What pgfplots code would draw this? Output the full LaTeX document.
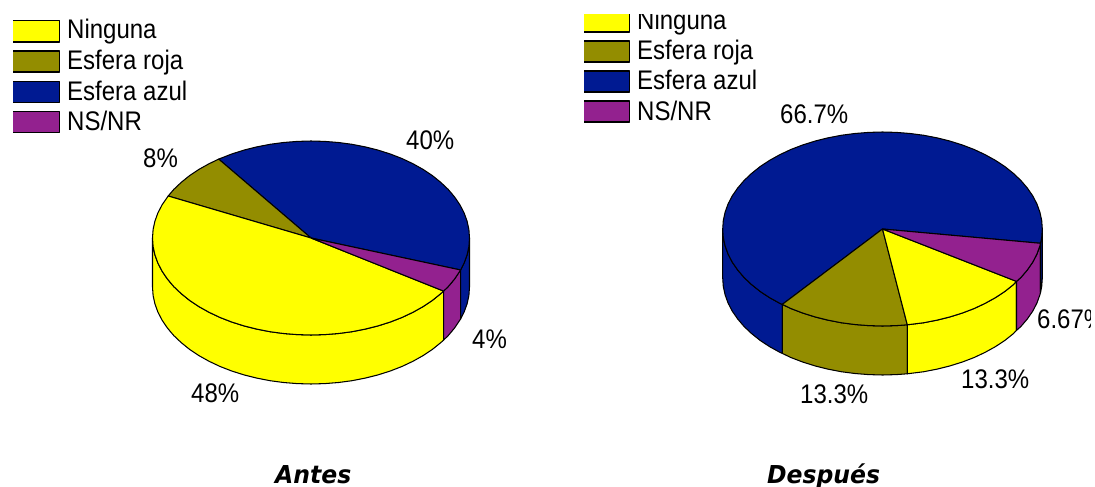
\documentclass[border=0pt]{standalone}
\usepackage{pgfplots}
\usepackage{fontspec}
\pgfplotsset{compat=1.18}
\setmainfont{Liberation Sans}
\newfontfamily\titlefont{DejaVu Sans}
\definecolor{cy}{RGB}{255,255,0}
\definecolor{co}{RGB}{147,141,0}
\definecolor{cb}{RGB}{0,26,146}
\definecolor{cp}{RGB}{147,33,143}
\newcommand{\lab}[3]{\node[anchor=base west,inner sep=0pt,text=black,yscale=1.12,transform shape,font=\fontsize{24}{24}\selectfont] at (axis cs:#1,#2) {#3};}
\newcommand{\ttl}[3]{\node[anchor=base west,inner sep=0pt,yscale=1.05,transform shape,font=\fontsize{23.5}{24}\selectfont\titlefont\bfseries\itshape] at (axis cs:#1,#2) {#3};}
\begin{document}
\begin{tikzpicture}
\useasboundingbox (0,0) rectangle (1095pt,487pt);
\begin{axis}[
  at={(0,0)}, anchor=south west,
  scale only axis, width=1095pt, height=487pt,
  xmin=0, xmax=1095, ymin=0, ymax=487, y dir=reverse,
  hide axis, clip=false,
  every axis plot/.append style={no markers, line width=1.05pt, line join=round, draw=black},
]
% canvas
\addplot[fill=white, draw=none] coordinates {(0,0) (1095,0) (1095,487) (0,487) (0,0)};

% ---------- Antes: sides
\addplot[fill=cy] coordinates {(152.5,238) (153.1,246.5) (154.9,254.8) (157.9,263.1) (162.1,271.2) (167.4,279) (173.7,286.5) (181.2,293.6) (189.6,300.4) (198.9,306.6) (209.1,312.3) (220.1,317.5) (231.7,322) (244,325.9) (256.8,329.1) (270,331.7) (283.5,333.5) (297.2,334.6) (311,335) (324.8,334.6) (338.5,333.5) (352,331.7) (365.2,329.1) (378,325.9) (390.3,322) (401.9,317.5) (412.9,312.3) (423.1,306.6) (432.4,300.4) (440.8,293.6) (443.6,291.1) (443.6,340.1) (440.8,342.6) (432.4,349.4) (423.1,355.6) (412.9,361.3) (401.9,366.5) (390.3,371) (378,374.9) (365.2,378.1) (352,380.7) (338.5,382.5) (324.8,383.6) (311,384) (297.2,383.6) (283.5,382.5) (270,380.7) (256.8,378.1) (244,374.9) (231.7,371) (220.1,366.5) (209.1,361.3) (198.9,355.6) (189.6,349.4) (181.2,342.6) (173.7,335.5) (167.4,328) (162.1,320.2) (157.9,312.1) (154.9,303.8) (153.1,295.5) (152.5,287) (152.5,238)};
\addplot[fill=cp] coordinates {(443.6,291.1) (448.3,286.5) (454.6,279) (460.6,270) (460.6,319) (454.6,328) (448.3,335.5) (443.6,340.1) (443.6,291.1)};
\addplot[fill=cb] coordinates {(460.6,270) (464.1,263.1) (467.1,254.8) (468.9,246.5) (469.5,238) (469.5,287) (468.9,295.5) (467.1,303.8) (464.1,312.1) (460.6,319) (460.6,270)};
% ---------- Antes: top
\addplot[fill=cb] coordinates {(311,238) (460.6,270) (464.1,263.1) (467.1,254.8) (468.9,246.5) (469.5,238) (468.9,229.5) (467.1,221.2) (464.1,212.9) (459.9,204.8) (454.6,197) (448.3,189.5) (440.8,182.4) (432.4,175.6) (423.1,169.4) (412.9,163.7) (401.9,158.5) (390.3,154) (378,150.1) (365.2,146.9) (352,144.3) (338.5,142.5) (324.8,141.4) (311,141) (297.2,141.4) (283.5,142.5) (270,144.3) (256.8,146.9) (244,150.1) (231.7,154) (218.7,159.1) (311,238)};
\addplot[fill=co] coordinates {(311,238) (218.7,159.1) (209.1,163.7) (198.9,169.4) (189.6,175.6) (181.2,182.4) (173.7,189.5) (168.2,196) (311,238)};
\addplot[fill=cy] coordinates {(311,238) (168.2,196) (162.1,204.8) (157.9,212.9) (154.9,221.2) (153.1,229.5) (152.5,238) (153.1,246.5) (154.9,254.8) (157.9,263.1) (162.1,271.2) (167.4,279) (173.7,286.5) (181.2,293.6) (189.6,300.4) (198.9,306.6) (209.1,312.3) (220.1,317.5) (231.7,322) (244,325.9) (256.8,329.1) (270,331.7) (283.5,333.5) (297.2,334.6) (311,335) (324.8,334.6) (338.5,333.5) (352,331.7) (365.2,329.1) (378,325.9) (390.3,322) (401.9,317.5) (412.9,312.3) (423.1,306.6) (432.4,300.4) (440.8,293.6) (443.6,291.1) (311,238)};
\addplot[fill=cp] coordinates {(311,238) (443.6,291.1) (448.3,286.5) (454.6,279) (460.6,270) (311,238)};

% ---------- Después: sides
\addplot[fill=cb] coordinates {(722.7,229) (723.3,237.5) (725.1,245.8) (728.1,254.1) (732.3,262.2) (737.7,270) (744.1,277.5) (751.6,284.6) (760.1,291.4) (769.5,297.6) (779.8,303.3) (782.3,304.4) (782.3,353.4) (779.8,352.3) (769.5,346.6) (760.1,340.4) (751.6,333.6) (744.1,326.5) (737.7,319) (732.3,311.2) (728.1,303.1) (725.1,294.8) (723.3,286.5) (722.7,278) (722.7,229)};
\addplot[fill=co] coordinates {(782.3,304.4) (790.8,308.5) (802.6,313) (815,316.9) (827.8,320.1) (841.1,322.7) (854.8,324.5) (868.6,325.6) (882.5,326) (896.4,325.6) (907.3,324.8) (907.3,373.8) (896.4,374.6) (882.5,375) (868.6,374.6) (854.8,373.5) (841.1,371.7) (827.8,369.1) (815,365.9) (802.6,362) (790.8,357.5) (782.3,353.4) (782.3,304.4)};
\addplot[fill=cy] coordinates {(907.3,324.8) (923.9,322.7) (937.2,320.1) (950,316.9) (962.4,313) (974.2,308.5) (985.2,303.3) (995.5,297.6) (1004.9,291.4) (1013.4,284.6) (1016.5,281.4) (1016.5,330.4) (1013.4,333.6) (1004.9,340.4) (995.5,346.6) (985.2,352.3) (974.2,357.5) (962.4,362) (950,365.9) (937.2,369.1) (923.9,371.7) (907.3,373.8) (907.3,324.8)};
\addplot[fill=cp] coordinates {(1016.5,281.4) (1020.9,277.5) (1027.3,270) (1032.7,262.2) (1036.9,254.1) (1039.9,245.8) (1040.5,243.3) (1040.5,292.3) (1039.9,294.8) (1036.9,303.1) (1032.7,311.2) (1027.3,319) (1020.9,326.5) (1016.5,330.4) (1016.5,281.4)};
\addplot[fill=cb] coordinates {(1040.5,243.3) (1041.7,237.5) (1042.3,229) (1042.3,278) (1041.7,286.5) (1040.5,292.3) (1040.5,243.3)};
% ---------- Después: top
\addplot[fill=cb] coordinates {(882.5,229) (1040.5,243.3) (1041.7,237.5) (1042.3,229) (1041.7,220.5) (1039.9,212.2) (1036.9,203.9) (1032.7,195.8) (1027.3,188) (1020.9,180.5) (1013.4,173.4) (1004.9,166.6) (995.5,160.4) (985.2,154.7) (974.2,149.5) (962.4,145) (950,141.1) (937.2,137.9) (923.9,135.3) (910.2,133.5) (896.4,132.4) (882.5,132) (868.6,132.4) (854.8,133.5) (841.1,135.3) (827.8,137.9) (815,141.1) (802.6,145) (790.8,149.5) (779.8,154.7) (769.5,160.4) (760.1,166.6) (751.6,173.4) (744.1,180.5) (737.7,188) (732.3,195.8) (728.1,203.9) (725.1,212.2) (723.3,220.5) (722.7,229) (723.3,237.5) (725.1,245.8) (728.1,254.1) (732.3,262.2) (737.7,270) (744.1,277.5) (751.6,284.6) (760.1,291.4) (769.5,297.6) (779.8,303.3) (782.3,304.4) (882.5,229)};
\addplot[fill=co] coordinates {(882.5,229) (782.3,304.4) (790.8,308.5) (802.6,313) (815,316.9) (827.8,320.1) (841.1,322.7) (854.8,324.5) (868.6,325.6) (882.5,326) (896.4,325.6) (907.3,324.8) (882.5,229)};
\addplot[fill=cy] coordinates {(882.5,229) (907.3,324.8) (923.9,322.7) (937.2,320.1) (950,316.9) (962.4,313) (974.2,308.5) (985.2,303.3) (995.5,297.6) (1004.9,291.4) (1013.4,284.6) (1016.5,281.4) (882.5,229)};
\addplot[fill=cp] coordinates {(882.5,229) (1016.5,281.4) (1020.9,277.5) (1027.3,270) (1032.7,262.2) (1036.9,254.1) (1039.9,245.8) (1040.5,243.3) (882.5,229)};

% ---------- legend swatches: Antes
\addplot[fill=cy, draw=none] coordinates {(13,20.7) (59.3,20.7) (59.3,42) (13,42) (13,20.7)};
\addplot[black] coordinates {(13,20.7) (59.3,20.7) (59.3,42) (13,42)};
\addplot[fill=co, draw=none] coordinates {(13,51) (59.3,51) (59.3,72) (13,72) (13,51)};
\addplot[black] coordinates {(13,51) (59.3,51) (59.3,72) (13,72)};
\addplot[fill=cb, draw=none] coordinates {(13,81.5) (59.3,81.5) (59.3,102.5) (13,102.5) (13,81.5)};
\addplot[black] coordinates {(13,81.5) (59.3,81.5) (59.3,102.5) (13,102.5)};
\addplot[fill=cp, draw=none] coordinates {(13,111.5) (59.3,111.5) (59.3,132.5) (13,132.5) (13,111.5)};
\addplot[black] coordinates {(13,111.5) (59.3,111.5) (59.3,132.5) (13,132.5)};
% ---------- legend swatches: Después
\addplot[fill=cy, draw=none] coordinates {(584,10) (629.5,10) (629.5,32) (584,32) (584,10)};
\addplot[black] coordinates {(584,32) (629.5,32) (629.5,10)};
\addplot[fill=co, draw=none] coordinates {(584,41) (629.5,41) (629.5,62) (584,62) (584,41)};
\addplot[black] coordinates {(584,41) (629.5,41) (629.5,62) (584,62)};
\addplot[fill=cb, draw=none] coordinates {(584,71) (629.5,71) (629.5,92) (584,92) (584,71)};
\addplot[black] coordinates {(584,71) (629.5,71) (629.5,92) (584,92)};
\addplot[fill=cp, draw=none] coordinates {(584,101) (629.5,101) (629.5,122) (584,122) (584,101)};
\addplot[black] coordinates {(584,101) (629.5,101) (629.5,122) (584,122)};

% ---------- text
\lab{67}{39}{Ninguna}
\lab{67}{69}{Esfera roja}
\lab{67}{100}{Esfera azul}
\lab{67}{130}{NS/NR}
\lab{637}{30}{Ninguna}
\lab{637}{60}{Esfera roja}
\lab{637}{90}{Esfera azul}
\lab{637}{120}{NS/NR}
\lab{406}{149}{40\%}
\lab{143}{167}{8\%}
\lab{472}{348}{4\%}
\lab{191}{402}{48\%}
\lab{780}{123}{66.7\%}
\lab{1037}{328}{6.67\%}
\lab{961}{388}{13.3\%}
\lab{800}{403}{13.3\%}
\ttl{275}{483}{Antes}
\ttl{767}{483}{Después}

% ---------- covers that cut text off as in the reference
\addplot[fill=white, draw=none] coordinates {(575,0) (760,0) (760,14) (575,14) (575,0)};
\addplot[fill=white, draw=none] coordinates {(1091,300) (1110,300) (1110,345) (1091,345) (1091,300)};
\end{axis}
\end{tikzpicture}
\end{document}
